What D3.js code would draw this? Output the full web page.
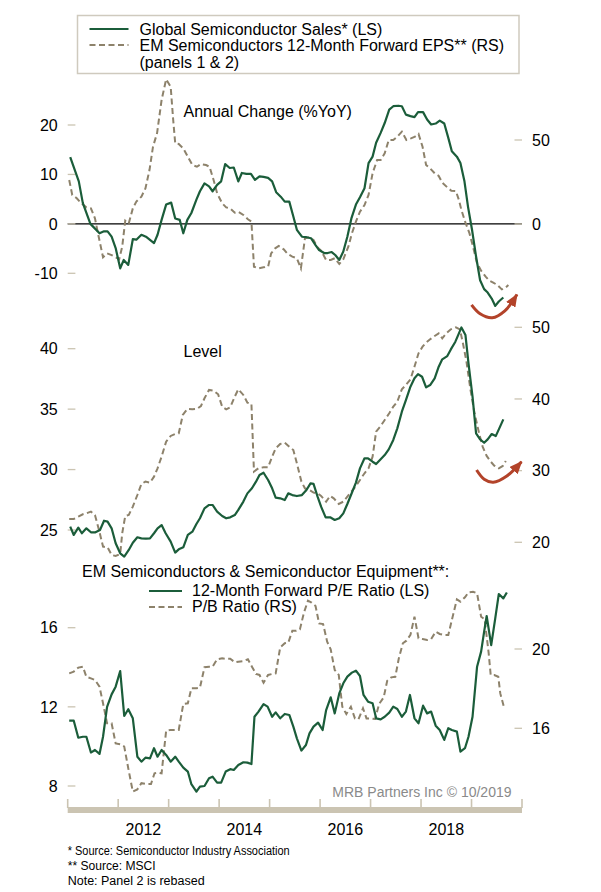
<!DOCTYPE html>
<html lang="en">
<head>
<meta charset="UTF-8">
<title>EM Semiconductors</title>
<script src="https://cdnjs.cloudflare.com/ajax/libs/d3/7.8.5/d3.min.js"></script>
<style>
body { margin: 0; background: #fff; }
svg { font-family: "Liberation Sans", Arial, sans-serif; }
</style>
</head>
<body>
<div id="chart"></div>
<script>
// [decimal year, value]

// panel 1: annual change (%YoY)
var salesYoY = [[2011.05,13.5],[2011.22,8.6],[2011.30,4.2],[2011.45,0],[2011.63,-1.9],[2011.72,-1.5],[2011.79,-1.5],[2011.87,-2.6],[2011.95,-4.9],[2012.04,-9],[2012.11,-7.3],[2012.20,-8.3],[2012.29,-3.1],[2012.36,-3.2],[2012.46,-2.2],[2012.55,-2.6],[2012.71,-3.9],[2012.78,-2.2],[2012.86,0.8],[2012.95,3.9],[2013.05,4.3],[2013.13,1.1],[2013.22,0.8],[2013.29,-1.9],[2013.37,0.8],[2013.45,2.2],[2013.55,4.9],[2013.62,6.6],[2013.71,8.2],[2013.80,7.6],[2013.87,6.6],[2013.96,7.9],[2014.04,8.6],[2014.12,12.1],[2014.21,11.3],[2014.29,11.4],[2014.38,8.6],[2014.45,10.3],[2014.54,10.1],[2014.63,10.1],[2014.71,8.9],[2014.80,9.6],[2014.88,9.5],[2014.97,9.3],[2015.05,8.6],[2015.13,6.4],[2015.22,5.5],[2015.30,4.5],[2015.39,4.5],[2015.47,1.5],[2015.54,-1.2],[2015.64,-2.6],[2015.73,-2.7],[2015.82,-2.9],[2015.91,-4.3],[2015.98,-5.3],[2016.08,-5.9],[2016.15,-5.9],[2016.23,-5.7],[2016.30,-6.3],[2016.38,-7.3],[2016.46,-5.6],[2016.54,-2.6],[2016.62,1.1],[2016.71,3.9],[2016.79,5.4],[2016.88,7.2],[2016.96,12.3],[2017.04,13.6],[2017.11,16.4],[2017.20,18.4],[2017.28,20.4],[2017.37,23.1],[2017.45,23.8],[2017.55,23.9],[2017.62,23.8],[2017.70,22.1],[2017.79,21.8],[2017.87,21.6],[2017.94,22.6],[2018.04,22.6],[2018.12,21.1],[2018.20,20.1],[2018.29,20.3],[2018.37,20.9],[2018.46,20.3],[2018.54,17.4],[2018.61,14.7],[2018.71,13.6],[2018.78,12.3],[2018.86,8.6],[2018.93,3.5],[2019.01,-1.2],[2019.09,-6.6],[2019.17,-11.4],[2019.25,-13.2],[2019.32,-13.9],[2019.40,-15.1],[2019.47,-16.6],[2019.54,-15.7],[2019.63,-14.9]];

var epsYoY = [[2011.03,26.2],[2011.09,17.3],[2011.18,15.3],[2011.27,12.3],[2011.37,9.9],[2011.46,9.3],[2011.54,3.4],[2011.60,-5.6],[2011.70,-19.8],[2011.78,-17.5],[2011.87,-18.5],[2011.95,-19.8],[2012.02,-21],[2012.08,-13.5],[2012.14,2],[2012.21,0.4],[2012.29,9.3],[2012.36,13.3],[2012.46,16.3],[2012.54,21.2],[2012.62,32.1],[2012.69,46],[2012.77,54],[2012.86,73.8],[2012.95,86.1],[2013.04,81.7],[2013.09,61.9],[2013.13,48],[2013.20,47.6],[2013.29,45],[2013.38,40],[2013.47,35.1],[2013.56,34.1],[2013.64,35.7],[2013.74,35.1],[2013.81,34.1],[2013.89,26.2],[2013.96,18.3],[2014.06,12.3],[2014.14,9.9],[2014.22,9.3],[2014.31,6.7],[2014.38,7.3],[2014.48,5.4],[2014.57,2.8],[2014.64,1.4],[2014.69,-25.4],[2014.78,-26.4],[2014.88,-25.8],[2014.97,-25.4],[2015.03,-17.5],[2015.11,-14.5],[2015.18,-13.1],[2015.28,-15.1],[2015.36,-17.9],[2015.45,-19.4],[2015.54,-20.4],[2015.62,-26.4],[2015.70,-8.5],[2015.78,-7.9],[2015.87,-9.5],[2015.95,-13.9],[2016.02,-15.9],[2016.12,-21.4],[2016.21,-21.4],[2016.29,-20.4],[2016.38,-23.8],[2016.46,-21],[2016.56,-13.5],[2016.63,-5.6],[2016.71,1.4],[2016.79,7.3],[2016.88,11.3],[2016.96,17.3],[2017.04,30.2],[2017.13,38.1],[2017.20,38.1],[2017.28,42.1],[2017.36,50],[2017.45,50],[2017.53,52],[2017.62,55],[2017.71,50],[2017.80,51],[2017.88,52],[2017.95,53.6],[2018.03,46],[2018.10,35.1],[2018.18,33.1],[2018.27,30.2],[2018.35,28.6],[2018.42,24.6],[2018.52,21.8],[2018.60,19.8],[2018.69,19.6],[2018.75,14.3],[2018.80,8.3],[2018.88,0.8],[2018.96,-5.6],[2019.03,-13.5],[2019.11,-23.4],[2019.19,-27.8],[2019.28,-31.3],[2019.35,-33.7],[2019.43,-34.9],[2019.51,-36.3],[2019.60,-38.9],[2019.68,-37.7],[2019.73,-36.3]];

// panel 2: level (rebased)
var salesLevel = [[2011.05,25.28],[2011.12,24.59],[2011.21,25.19],[2011.28,24.73],[2011.37,25.14],[2011.46,24.81],[2011.55,24.81],[2011.64,25.0],[2011.72,25.77],[2011.79,25.69],[2011.87,25.14],[2011.95,23.9],[2012.04,23.07],[2012.12,22.8],[2012.21,23.35],[2012.29,23.95],[2012.38,24.4],[2012.46,24.31],[2012.55,24.28],[2012.63,24.31],[2012.71,24.73],[2012.78,25.14],[2012.86,25.41],[2012.94,24.73],[2013.04,24.04],[2013.13,23.13],[2013.20,23.4],[2013.29,23.57],[2013.38,24.59],[2013.47,24.86],[2013.55,25.5],[2013.62,25.97],[2013.71,26.79],[2013.80,27.07],[2013.87,27.07],[2013.96,26.52],[2014.06,26.16],[2014.14,25.97],[2014.22,26.05],[2014.31,26.24],[2014.38,26.66],[2014.48,27.35],[2014.56,28.03],[2014.65,28.45],[2014.73,29.0],[2014.80,29.55],[2014.88,29.74],[2014.97,29.14],[2015.05,28.45],[2015.12,27.68],[2015.21,27.62],[2015.30,27.48],[2015.37,28.03],[2015.45,27.89],[2015.54,27.81],[2015.64,27.89],[2015.73,28.31],[2015.81,28.86],[2015.87,28.81],[2015.95,27.76],[2016.02,26.93],[2016.11,26.05],[2016.20,26.05],[2016.29,25.83],[2016.38,25.97],[2016.46,26.38],[2016.54,27.15],[2016.62,27.98],[2016.71,28.92],[2016.79,30.1],[2016.88,30.93],[2016.95,30.93],[2017.04,30.65],[2017.11,30.46],[2017.20,30.85],[2017.28,31.2],[2017.36,31.67],[2017.45,32.45],[2017.53,33.41],[2017.62,34.79],[2017.70,35.75],[2017.79,36.86],[2017.87,37.55],[2017.94,37.9],[2018.02,37.68],[2018.10,36.8],[2018.18,36.99],[2018.27,37.55],[2018.35,38.51],[2018.42,39.12],[2018.52,39.39],[2018.59,39.94],[2018.68,40.58],[2018.75,41.27],[2018.80,41.76],[2018.88,41.13],[2018.94,38.79],[2019.02,36.03],[2019.09,33.0],[2019.17,32.5],[2019.25,32.22],[2019.32,32.5],[2019.40,32.94],[2019.48,32.77],[2019.55,33.41],[2019.63,34.15]];

var epsLevel = [[2011.03,23.26],[2011.12,23.26],[2011.21,23.58],[2011.30,23.91],[2011.37,24.05],[2011.46,24.28],[2011.54,23.81],[2011.62,21.72],[2011.70,19.4],[2011.79,19.3],[2011.87,18.23],[2011.95,18.09],[2012.04,18.37],[2012.08,21.26],[2012.14,23.67],[2012.21,23.81],[2012.29,24.98],[2012.38,26.6],[2012.46,28.14],[2012.54,28.47],[2012.63,28.33],[2012.71,29.16],[2012.78,30.33],[2012.86,31.95],[2012.95,34.05],[2013.04,34.84],[2013.13,35.12],[2013.20,35.21],[2013.28,37.77],[2013.37,38.6],[2013.47,38.56],[2013.56,38.6],[2013.64,39.02],[2013.71,40.09],[2013.80,41.26],[2013.89,41.16],[2013.98,40.65],[2014.06,38.93],[2014.14,38.56],[2014.22,38.84],[2014.31,40.33],[2014.38,41.35],[2014.48,40.56],[2014.56,39.49],[2014.64,39.3],[2014.69,29.86],[2014.78,30.33],[2014.88,30.47],[2014.97,30.47],[2015.05,31.95],[2015.12,33.12],[2015.21,33.72],[2015.30,33.91],[2015.39,33.35],[2015.47,32.88],[2015.54,31.02],[2015.63,28.47],[2015.70,27.53],[2015.79,27.3],[2015.87,26.93],[2015.95,26.84],[2016.02,26.47],[2016.12,25.67],[2016.20,26.47],[2016.27,26.14],[2016.37,25.35],[2016.46,25.67],[2016.54,26.37],[2016.62,27.07],[2016.71,27.86],[2016.79,28.7],[2016.88,29.63],[2016.96,30.33],[2017.04,31.95],[2017.11,35.44],[2017.20,36.23],[2017.28,37.07],[2017.37,38.0],[2017.45,38.93],[2017.53,39.63],[2017.62,41.35],[2017.70,41.95],[2017.79,42.74],[2017.88,44.74],[2017.95,46.37],[2018.03,47.3],[2018.10,47.86],[2018.18,48.33],[2018.27,48.79],[2018.35,49.16],[2018.42,48.47],[2018.50,49.16],[2018.59,49.72],[2018.69,50],[2018.77,49.72],[2018.83,47.77],[2018.90,45.21],[2018.98,41.26],[2019.06,38.0],[2019.15,35.21],[2019.22,33.35],[2019.30,32.05],[2019.38,31.26],[2019.45,30.7],[2019.54,30.33],[2019.62,30.65],[2019.68,31.35]];

// panel 3: valuation
var peRatio = [[2011.03,11.3],[2011.12,11.3],[2011.21,10.44],[2011.30,10.49],[2011.37,10.49],[2011.46,9.69],[2011.54,9.82],[2011.63,9.62],[2011.70,10.49],[2011.78,12.0],[2011.87,12.63],[2011.95,13.02],[2012.04,13.81],[2012.12,11.54],[2012.20,11.88],[2012.29,11.42],[2012.38,9.48],[2012.46,9.23],[2012.54,9.43],[2012.63,9.4],[2012.71,9.91],[2012.78,9.48],[2012.86,9.82],[2012.95,9.57],[2013.04,9.23],[2013.13,9.48],[2013.20,9.23],[2013.29,8.93],[2013.38,8.73],[2013.45,8.09],[2013.55,7.72],[2013.62,7.97],[2013.71,8.0],[2013.80,8.39],[2013.87,8.47],[2013.96,8.17],[2014.04,8.17],[2014.13,8.73],[2014.22,8.85],[2014.29,8.81],[2014.38,9.06],[2014.48,9.2],[2014.56,9.18],[2014.64,9.11],[2014.70,11.5],[2014.78,11.76],[2014.88,12.14],[2014.96,12.01],[2015.05,11.5],[2015.12,11.72],[2015.21,11.42],[2015.30,11.64],[2015.39,11.59],[2015.47,11.0],[2015.54,10.41],[2015.63,9.79],[2015.72,10.07],[2015.79,10.66],[2015.87,11.0],[2015.96,11.2],[2016.05,10.83],[2016.12,11.84],[2016.21,12.48],[2016.29,11.67],[2016.38,12.68],[2016.46,13.19],[2016.54,13.53],[2016.63,13.73],[2016.71,13.83],[2016.79,13.56],[2016.86,12.6],[2016.95,12.26],[2017.04,12.18],[2017.11,11.42],[2017.20,11.37],[2017.28,11.5],[2017.37,11.71],[2017.45,12.01],[2017.53,11.89],[2017.62,11.5],[2017.70,11.76],[2017.78,12.6],[2017.87,11.42],[2017.95,11.17],[2018.04,12.06],[2018.12,11.67],[2018.20,11.76],[2018.29,11.05],[2018.37,10.83],[2018.46,10.33],[2018.54,10.92],[2018.61,10.83],[2018.71,10.75],[2018.78,9.74],[2018.87,9.91],[2018.94,10.49],[2019.02,11.5],[2019.11,14.03],[2019.19,14.79],[2019.25,15.8],[2019.30,16.59],[2019.39,15.12],[2019.47,16.47],[2019.54,17.7],[2019.63,17.48],[2019.70,17.78]];

var pbRatio = [[2011.03,18.77],[2011.12,18.86],[2011.21,19.06],[2011.30,19.11],[2011.37,18.6],[2011.46,18.52],[2011.54,18.44],[2011.63,18.1],[2011.70,17.26],[2011.78,16.25],[2011.87,16.25],[2011.95,15.24],[2012.04,15.19],[2012.12,15.08],[2012.20,13.98],[2012.29,12.81],[2012.38,12.92],[2012.46,13.23],[2012.55,13.19],[2012.65,13.19],[2012.72,13.73],[2012.80,13.76],[2012.86,13.73],[2012.95,15.88],[2013.04,15.92],[2013.13,15.92],[2013.20,15.92],[2013.29,17.23],[2013.38,17.26],[2013.45,18.02],[2013.55,18.02],[2013.62,18.05],[2013.71,19.08],[2013.80,19.11],[2013.87,19.11],[2013.96,19.48],[2014.06,19.53],[2014.14,19.5],[2014.22,19.51],[2014.31,19.33],[2014.38,19.36],[2014.48,19.39],[2014.57,19.48],[2014.65,19.11],[2014.73,18.74],[2014.80,18.69],[2014.88,18.3],[2014.97,18.69],[2015.05,18.74],[2015.12,18.77],[2015.21,20.08],[2015.30,20.29],[2015.37,20.32],[2015.45,20.92],[2015.53,20.92],[2015.60,20.99],[2015.68,21.83],[2015.76,22.44],[2015.83,22.34],[2015.91,22.17],[2015.98,21.29],[2016.06,21.26],[2016.14,20.37],[2016.21,19.98],[2016.29,18.94],[2016.37,18.69],[2016.44,17.09],[2016.52,16.72],[2016.61,17.09],[2016.69,16.5],[2016.76,16.45],[2016.85,17.01],[2016.92,16.5],[2017.00,16.5],[2017.09,16.47],[2017.17,17.23],[2017.26,17.56],[2017.33,18.4],[2017.41,18.57],[2017.49,18.6],[2017.56,19.53],[2017.64,20.29],[2017.71,20.42],[2017.79,20.71],[2017.87,21.63],[2017.95,20.54],[2018.03,20.5],[2018.12,20.45],[2018.20,20.5],[2018.29,20.87],[2018.37,20.76],[2018.46,20.71],[2018.54,20.71],[2018.61,21.46],[2018.71,22.5],[2018.78,22.39],[2018.87,22.61],[2018.94,22.86],[2019.03,22.89],[2019.11,22.81],[2019.19,21.63],[2019.26,21.5],[2019.34,19.78],[2019.38,18.69],[2019.45,18.69],[2019.53,18.6],[2019.57,17.76],[2019.64,17.09],[2019.68,17.01]];

// axis labels
var yearTicks = [2011, 2012, 2013, 2014, 2015, 2016, 2017, 2018, 2019, 2020];
var yearLabels = [2012, 2014, 2016, 2018];
var p1LeftTicks = [-10, 0, 10, 20], p1RightTicks = [0, 50];
var p2LeftTicks = [25, 30, 35, 40], p2RightTicks = [20, 30, 40, 50];
var p3LeftTicks = [8, 12, 16], p3RightTicks = [16, 20];

// curved arrows in panel 1 and 2, in left-scale units
var arrow1 = [[2019.00,-16.4],[2019.17,-18.2],[2019.41,-19.0],[2019.66,-17.6],[2019.90,-14.3]];
var arrow2 = [[2019.10,29.96],[2019.25,29.2],[2019.43,28.95],[2019.70,29.47],[2019.99,30.65]];

var green = '#1b5d3a', tan = '#8d826b', tickCol = '#cbc4b2', rust = '#b3432a';

var svg = d3.select('#chart').append('svg')
    .attr('width', 601)
    .attr('height', 892);
svg.append('rect').attr('width', 601).attr('height', 892).attr('fill', '#fff');

svg.append('defs').append('marker')
    .attr('id', 'head')
    .attr('markerUnits', 'userSpaceOnUse')
    .attr('viewBox', '0 0 12 10')
    .attr('markerWidth', 13)
    .attr('markerHeight', 11)
    .attr('refX', 11)
    .attr('refY', 5)
    .attr('orient', 'auto')
    .append('path')
    .attr('d', 'M0,0 L12,5 L0,10 Z')
    .attr('fill', rust);

var x = d3.scaleLinear().domain([2011, 2020]).range([67.7, 522]);
var xL = 67.7, xR = 522;

var panels = [
    {
        left: d3.scaleLinear().domain([-10, 20]).range([273.3, 125]),
        right: d3.scaleLinear().domain([0, 50]).range([224, 140]),
        leftTicks: p1LeftTicks, rightTicks: p1RightTicks,
        solid: salesYoY, dashed: epsYoY
    },
    {
        left: d3.scaleLinear().domain([25, 40]).range([530, 348.7]),
        right: d3.scaleLinear().domain([20, 50]).range([542.3, 327.3]),
        leftTicks: p2LeftTicks, rightTicks: p2RightTicks,
        solid: salesLevel, dashed: epsLevel
    },
    {
        left: d3.scaleLinear().domain([8, 16]).range([786, 627.7]),
        right: d3.scaleLinear().domain([16, 20]).range([728.3, 649]),
        leftTicks: p3LeftTicks, rightTicks: p3RightTicks,
        solid: peRatio, dashed: pbRatio
    }
];

// zero line of panel 1
svg.append('line')
    .attr('x1', xL).attr('x2', xR)
    .attr('y1', panels[0].left(0)).attr('y2', panels[0].left(0))
    .attr('stroke', '#000').attr('stroke-width', 1.3);

panels.forEach(function(p) {
    p.leftTicks.forEach(function(t) {
        svg.append('line')
            .attr('x1', xL).attr('x2', xL + 7.7)
            .attr('y1', p.left(t)).attr('y2', p.left(t))
            .attr('stroke', tickCol).attr('stroke-width', 1.3);
        svg.append('text')
            .attr('x', 57.7).attr('y', p.left(t)).attr('dy', '0.36em')
            .attr('text-anchor', 'end').attr('font-size', 16)
            .text(t);
    });
    p.rightTicks.forEach(function(t) {
        svg.append('line')
            .attr('x1', xR - 7.5).attr('x2', xR)
            .attr('y1', p.right(t)).attr('y2', p.right(t))
            .attr('stroke', tickCol).attr('stroke-width', 1.3);
        svg.append('text')
            .attr('x', 532).attr('y', p.right(t)).attr('dy', '0.36em')
            .attr('font-size', 16)
            .text(t);
    });

    var lineR = d3.line().x(function(d) { return x(d[0]); }).y(function(d) { return p.right(d[1]); });
    var lineL = d3.line().x(function(d) { return x(d[0]); }).y(function(d) { return p.left(d[1]); });

    svg.append('path')
        .attr('d', lineR(p.dashed))
        .attr('fill', 'none').attr('stroke', tan)
        .attr('stroke-width', 2).attr('stroke-dasharray', '6,3.5');
    svg.append('path')
        .attr('d', lineL(p.solid))
        .attr('fill', 'none').attr('stroke', green)
        .attr('stroke-width', 2.2).attr('stroke-linejoin', 'round');
});

// arrows
[[arrow1, panels[0]], [arrow2, panels[1]]].forEach(function(a) {
    var arc = d3.line().curve(d3.curveCatmullRom)
        .x(function(d) { return x(d[0]); })
        .y(function(d) { return a[1].left(d[1]); });
    svg.append('path')
        .attr('d', arc(a[0]))
        .attr('fill', 'none').attr('stroke', rust)
        .attr('stroke-width', 3)
        .attr('marker-end', 'url(#head)');
});

// bottom axis band
svg.append('rect')
    .attr('x', xL).attr('y', 807)
    .attr('width', xR - xL).attr('height', 6)
    .attr('fill', tickCol);
svg.selectAll('.ytick').data(yearTicks).enter().append('line')
    .attr('x1', function(d) { return x(d); }).attr('x2', function(d) { return x(d); })
    .attr('y1', 799).attr('y2', 808)
    .attr('stroke', tickCol).attr('stroke-width', 1.6);
svg.selectAll('.ylab').data(yearLabels).enter().append('text')
    .attr('x', function(d) { return x(d + 0.5); })
    .attr('y', 835)
    .attr('text-anchor', 'middle').attr('font-size', 16)
    .text(function(d) { return d; });

// top legend
svg.append('rect')
    .attr('x', 77.5).attr('y', 15.5).attr('width', 441.5).attr('height', 58)
    .attr('fill', '#fff').attr('stroke', '#cfcabe').attr('stroke-width', 1.5);
svg.append('line').attr('x1', 89.5).attr('x2', 128.5).attr('y1', 29).attr('y2', 29)
    .attr('stroke', green).attr('stroke-width', 2.2);
svg.append('line').attr('x1', 89.5).attr('x2', 128.5).attr('y1', 45).attr('y2', 45)
    .attr('stroke', tan).attr('stroke-width', 2).attr('stroke-dasharray', '6,3.5');
var leg = svg.append('g').attr('font-size', 16);
leg.append('text').attr('x', 139.5).attr('y', 34.5).text('Global Semiconductor Sales* (LS)');
leg.append('text').attr('x', 139.5).attr('y', 51).text('EM Semiconductors 12-Month Forward EPS** (RS)');
leg.append('text').attr('x', 139.5).attr('y', 68).text('(panels 1 & 2)');

// panel titles
svg.append('text').attr('x', 183.5).attr('y', 117).attr('font-size', 16).text('Annual Change (%YoY)');
svg.append('text').attr('x', 183.5).attr('y', 357).attr('font-size', 16).text('Level');
svg.append('text').attr('x', 82).attr('y', 577).attr('font-size', 16)
    .text('EM Semiconductors & Semiconductor Equipment**:');
svg.append('line').attr('x1', 149).attr('x2', 182).attr('y1', 591).attr('y2', 591)
    .attr('stroke', green).attr('stroke-width', 2.2);
svg.append('line').attr('x1', 149).attr('x2', 182).attr('y1', 607).attr('y2', 607)
    .attr('stroke', tan).attr('stroke-width', 2).attr('stroke-dasharray', '6,3.5');
svg.append('text').attr('x', 192).attr('y', 596).attr('font-size', 16).text('12-Month Forward P/E Ratio (LS)');
svg.append('text').attr('x', 192).attr('y', 612).attr('font-size', 16).text('P/B Ratio (RS)');

svg.append('text').attr('x', 511.5).attr('y', 797).attr('text-anchor', 'end')
    .attr('font-size', 14).attr('fill', '#8a8a8a')
    .text('MRB Partners Inc \u00a9 10/2019');

// footnotes
var foot = svg.append('g').attr('font-size', 12.5);
foot.append('text').attr('x', 67.7).attr('y', 855)
    .attr('textLength', 222).attr('lengthAdjust', 'spacingAndGlyphs')
    .text('* Source: Semiconductor Industry Association');
foot.append('text').attr('x', 67.7).attr('y', 870)
    .attr('textLength', 88).attr('lengthAdjust', 'spacingAndGlyphs')
    .text('** Source: MSCI');
foot.append('text').attr('x', 67.7).attr('y', 885)
    .text('Note: Panel 2 is rebased');
</script>
</body>
</html>
